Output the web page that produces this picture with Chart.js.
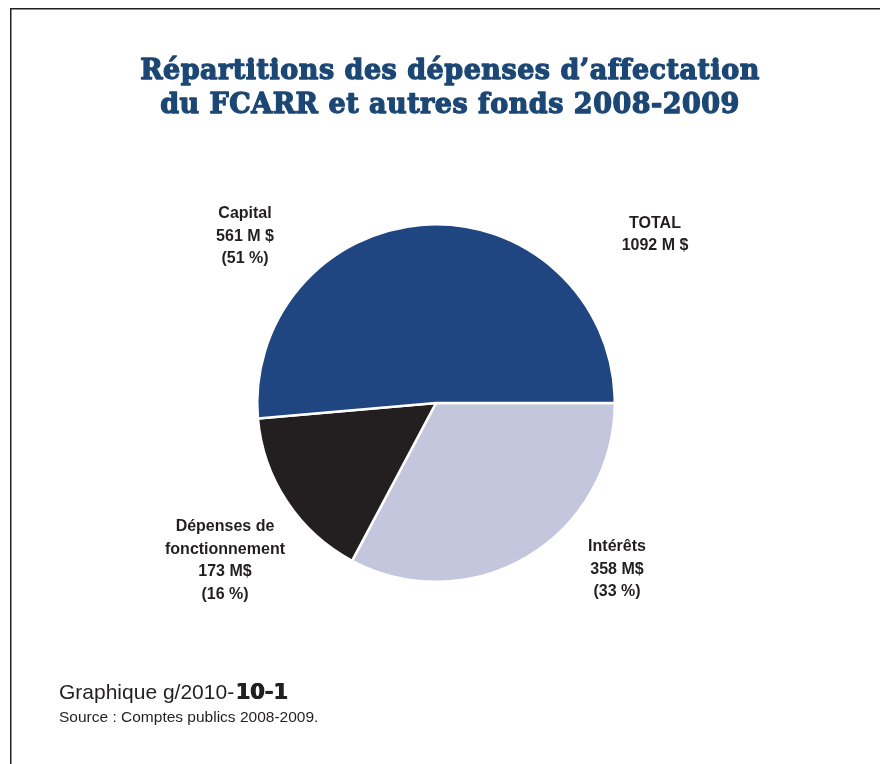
<!DOCTYPE html>
<html><head><meta charset="utf-8">
<script src="https://cdn.jsdelivr.net/npm/chart.js@4.4.1/dist/chart.umd.min.js"></script>
<style>html,body{margin:0;padding:0;background:#fff;}#wrap{width:880px;height:764px;position:relative;}</style>
</head><body><div id="wrap"><canvas id="c" width="880" height="764"></canvas></div>
<script>
const titleLines = ["Répartitions des dépenses d’affectation", "du FCARR et autres fonds 2008-2009"];
const categories = [["Intérêts"], ["Dépenses de", "fonctionnement"], ["Capital"]];
const values = [358, 173, 561];
const units = ["M$", "M$", "M $"];
const colors = ["#c3c6dc", "#231f20", "#1f4681"];
const totalLabel = ["TOTAL", "1092 M $"];
const graphId = ["Graphique g/2010-", "10-1"];
const sourceText = "Source : Comptes publics 2008-2009.";
// label anchor (center x, first-line y) per slice
const labelPos = [[617, 547], [225, 527], [245, 214]];
const totalPos = [655, 224];

const total = values.reduce((a, b) => a + b, 0);

const textPlugin = {
  id: 'texts',
  afterDraw(chart) {
    const ctx = chart.ctx;
    ctx.save();
    // frame
    ctx.strokeStyle = '#231f20';
    ctx.lineWidth = 1.5;
    ctx.beginPath();
    ctx.moveTo(10.75, 764); ctx.lineTo(10.75, 8.75); ctx.lineTo(880, 8.75);
    ctx.stroke();
    // footer (drawn before any letterSpacing change)
    ctx.fillStyle = '#231f20';
    ctx.textAlign = 'left';
    ctx.textBaseline = 'alphabetic';
    ctx.font = '21px "Liberation Sans"';
    ctx.fillText(graphId[0], 59, 699);
    const w = ctx.measureText(graphId[0]).width;
    ctx.font = 'bold 21px "DejaVu Sans"';
    for (let dx = 0; dx <= 1.0; dx += 0.5) ctx.fillText(graphId[1], 60 + w + dx, 699);
    ctx.font = '15.5px "Liberation Sans"';
    ctx.fillText(sourceText, 59, 722);
    // slice labels
    ctx.textAlign = 'center';
    ctx.font = 'bold 16px "Liberation Sans"';
    ctx.textBaseline = 'middle';
    categories.forEach((cat, i) => {
      const pct = Math.round(values[i] / total * 100);
      const lines = [...cat, values[i] + ' ' + units[i], '(' + pct + ' %)'];
      lines.forEach((l, j) => ctx.fillText(l, labelPos[i][0], labelPos[i][1] + j * 22.4));
    });
    totalLabel.forEach((l, j) => ctx.fillText(l, totalPos[0], totalPos[1] + j * 22));
    // title
    ctx.fillStyle = '#1c4775';
    ctx.strokeStyle = '#1c4775';
    ctx.lineWidth = 1.3;
    ctx.lineJoin = 'round';
    ctx.textBaseline = 'alphabetic';
    ctx.font = 'bold 27px "DejaVu Serif"';
    ctx.letterSpacing = '0.5px';
    titleLines.forEach((t, i) => { ctx.fillText(t, 450, 79 + i * 33.5); ctx.strokeText(t, 450, 79 + i * 33.5); });
    ctx.restore();
  }
};

new Chart(document.getElementById('c'), {
  type: 'pie',
  data: {
    labels: categories.map(c => c.join(' ')),
    datasets: [{
      data: values,
      backgroundColor: colors,
      borderColor: '#ffffff',
      borderWidth: 2.5,
      hoverOffset: 0,
      offset: 0
    }]
  },
  options: {
    responsive: false,
    animation: false,
    rotation: 90,
    layout: { padding: { left: 256, right: 264, top: 223, bottom: 181 } },
    plugins: { legend: { display: false }, title: { display: false }, tooltip: { enabled: false } },
    events: []
  },
  plugins: [textPlugin]
});
</script></body></html>
